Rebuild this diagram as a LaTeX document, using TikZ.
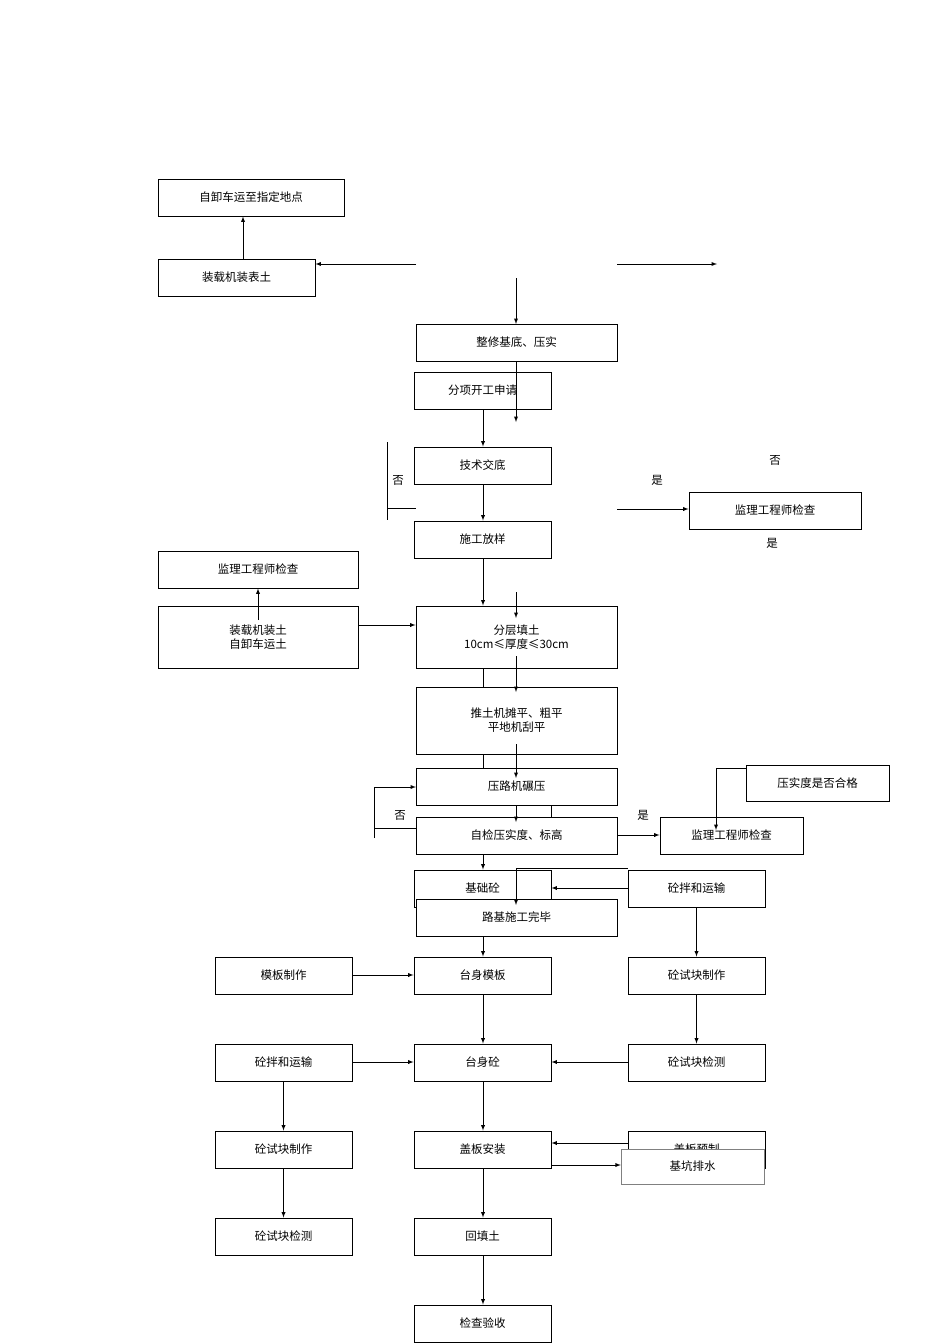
\documentclass[tikz,border=0pt]{standalone}
\usepackage{fontspec}
\setmainfont{Noto Sans CJK SC}
\begin{document}
\begin{tikzpicture}[x=1pt,y=-1pt,>=latex,
  bx/.style={draw,fill=white,line width=0.9pt,inner sep=0pt,align=center,font=\fontsize{11.5}{14}\selectfont},
  ln/.style={line width=0.9pt},
  lab/.style={font=\fontsize{11.5}{14}\selectfont}]
\useasboundingbox (0,0) rectangle (950,1344);
\newcommand{\bx}[6]{\node[bx,minimum width=#4-#2,minimum height=#5-#3] (#1) at ({(#2+#4)/2},{(#3+#5)/2}) {#6};}
% background lines
\draw[ln] (387,442)--(387,520);
\draw[ln] (387,508)--(416,508);
\draw[ln,->] (516,278)--(516,324);
\draw[ln] (374,838)--(374,787);
\draw[ln,->] (374,787)--(416,787);
\draw[very thin] (374,828)--(416,828);
\draw[ln] (516,868)--(628,868);
\bx{a}{158}{179}{344}{216}{自卸车运至指定地点}
\bx{b}{158}{259}{315}{296}{装载机装表土}
\bx{c}{416}{324}{617}{361}{整修基底、压实}
\bx{d}{414}{372}{551}{409}{分项开工申请}
\bx{e}{414}{447}{551}{484}{技术交底}
\bx{f}{414}{521}{551}{558}{施工放样}
\bx{g}{689}{492}{861}{529}{监理工程师检查}
\bx{h}{158}{551}{358}{588}{监理工程师检查}
\bx{i}{158}{606}{358}{668}{装载机装土\\自卸车运土}
\bx{j}{416}{606}{617}{668}{分层填土\\10cm≤厚度≤30cm}
\bx{k}{416}{687}{617}{754}{推土机摊平、粗平\\平地机刮平}
\bx{l}{416}{768}{617}{805}{压路机碾压}
\bx{m}{416}{817}{617}{854}{自检压实度、标高}
\bx{n}{660}{817}{803}{854}{监理工程师检查}
\bx{o}{746}{765}{889}{801}{压实度是否合格}
\bx{p}{414}{870}{551}{907}{基础砼}
\bx{q}{628}{870}{765}{907}{砼拌和运输}
\bx{r}{416}{899}{617}{936}{路基施工完毕}
\bx{s1}{215}{957}{352}{994}{模板制作}
\bx{s2}{414}{957}{551}{994}{台身模板}
\bx{s3}{628}{957}{765}{994}{砼试块制作}
\bx{t1}{215}{1044}{352}{1081}{砼拌和运输}
\bx{t2}{414}{1044}{551}{1081}{台身砼}
\bx{t3}{628}{1044}{765}{1081}{砼试块检测}
\bx{u1}{215}{1131}{352}{1168}{砼试块制作}
\bx{u2}{414}{1131}{551}{1168}{盖板安装}
\bx{u3}{628}{1131}{765}{1168}{盖板预制}
\node[draw=gray,fill=white,minimum width=143,minimum height=35,font=\fontsize{11.5}{14}\selectfont] (u4) at (692.5,1166.5) {基坑排水};
\bx{v1}{215}{1218}{352}{1255}{砼试块检测}
\bx{v2}{414}{1218}{551}{1255}{回填土}
\bx{w}{414}{1305}{551}{1342}{检查验收}
% arrows
\draw[ln,->] (b.north -| 243,0) -- (a.south -| 243,0);
\draw[ln,->] (416,264) -- (b.east |- 0,264);
\draw[ln,->] (617,264) -- (717,264);
\draw[ln,->] (516,361) -- (516,422);
\draw[ln,->] (d.south -| 483,0) -- (e.north -| 483,0);
\draw[ln,->] (e.south -| 483,0) -- (f.north -| 483,0);
\draw[ln,->] (f.south -| 483,0) -- (j.north -| 483,0);
\draw[ln,->] (516,592) -- (516,618);
\draw[ln,->] (617,509) -- (g.west |- 0,509);
\draw[ln,->] (258,620) -- (h.south -| 258,0);
\draw[ln,->] (i.east |- 0,625) -- (j.west |- 0,625);
\draw[ln] (j.south -| 483,0) -- (k.north -| 483,0);
\draw[ln] (k.south -| 483,0) -- (l.north -| 483,0);
\draw[ln,->] (516,656) -- (516,692);
\draw[ln,->] (516,744) -- (516,778);
\draw[ln,->] (516,805) -- (516,822);
\draw[ln] (551,805) -- (551,817);
\draw[ln,->] (m.south -| 483,0) -- (p.north -| 483,0);
\draw[ln,->] (m.east |- 0,835) -- (n.west |- 0,835);
\draw[ln] (o.west |- 0,768) -- (716,768);
\draw[ln,->] (716,768) -- (716,830);
\draw[ln,->] (q.west |- 0,888) -- (p.east |- 0,888);
\draw[ln,->] (516,868) -- (516,905);
\draw[ln,->] (r.south -| 483,0) -- (s2.north -| 483,0);
\draw[ln,->] (q.south) -- (s3.north);
\draw[ln,->] (s1.east |- 0,975) -- (s2.west |- 0,975);
\draw[ln,->] (s2.south -| 483,0) -- (t2.north -| 483,0);
\draw[ln,->] (s3.south) -- (t3.north);
\draw[ln,->] (t1.east |- 0,1062) -- (t2.west |- 0,1062);
\draw[ln,->] (t3.west |- 0,1062) -- (t2.east |- 0,1062);
\draw[ln,->] (t1.south) -- (u1.north);
\draw[ln,->] (u1.south) -- (v1.north);
\draw[ln,->] (t2.south -| 483,0) -- (u2.north -| 483,0);
\draw[ln,->] (628,1143) -- (u2.east |- 0,1143);
\draw[ln,->] (u2.east |- 0,1165) -- (u4.west |- 0,1165);
\draw[ln,->] (u2.south -| 483,0) -- (v2.north -| 483,0);
\draw[ln,->] (v2.south -| 483,0) -- (w.north -| 483,0);
% labels
\node[lab] (l1) at (398,480) {否};
\node[lab] (l2) at (657,480) {是};
\node[lab] (l3) at (775,460) {否};
\node[lab] (l4) at (772,543) {是};
\node[lab] (l5) at (400,815) {否};
\node[lab] (l6) at (643,815) {是};
\end{tikzpicture}
\end{document}
